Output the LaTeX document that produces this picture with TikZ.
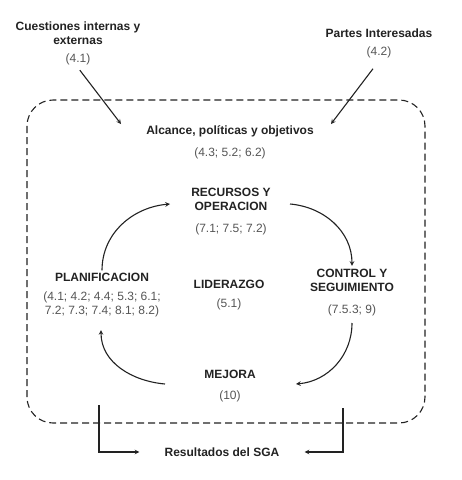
\documentclass[tikz,border=0pt]{standalone}
\usepackage{fontspec}
\setmainfont{Liberation Sans}
\usepackage{tikz}
\definecolor{numgray}{HTML}{555555}
\definecolor{inkblack}{HTML}{222222}
\tikzstyle{arrow} = [->,>=stealth,line width=1.1pt,draw=inkblack]
\tikzstyle{block} = [align=center,font=\fontsize{12}{14}\selectfont\bfseries,text=inkblack,inner sep=3pt]
\tikzstyle{frame} = [dash pattern=on 7pt off 4pt,line width=1.1pt,draw=inkblack,rounded corners=26pt]
\newcommand{\refnum}[1]{{\mdseries\color{numgray}#1}}

\begin{document}
\begin{tikzpicture}[x=1pt,y=-1pt]
        \useasboundingbox (0,0) rectangle (462,480);

        \draw[frame] (27,100) rectangle (425,423);

        \node[block] at (78,43) (cuest) {Cuestiones internas y\\externas\\[4pt]\refnum{(4.1)}};
        \node[block] at (379,43) (partes) {Partes Interesadas\\[4pt]\refnum{(4.2)}};
        \node[block] at (230,142) (alcance) {Alcance, políticas y objetivos\\[8pt]\refnum{(4.3; 5.2; 6.2)}};
        \node[block] at (231,212) (recursos) {RECURSOS Y\\OPERACION\\[8pt]\refnum{(7.1; 7.5; 7.2)}};
        \node[block] at (102,295.5) (planif) {PLANIFICACION\\[5pt]\refnum{(4.1; 4.2; 4.4; 5.3; 6.1;}\\\refnum{7.2; 7.3; 7.4; 8.1; 8.2)}};
        \node[block] at (229,295.5) (liderazgo) {LIDERAZGO\\[5pt]\refnum{(5.1)}};
        \node[block] at (352,292.5) (control) {CONTROL Y\\SEGUIMIENTO\\[8pt]\refnum{(7.5.3; 9)}};
        \node[block] at (230,386.5) (mejora) {MEJORA\\[7pt]\refnum{(10)}};
        \node[block] at (222,452) (resultados) {Resultados del SGA};

        \coordinate (in-cuest) at (121,124);
        \coordinate (in-partes) at (331,124);
        \coordinate (tl-end) at (170,204);
        \coordinate (tr-start) at (290,204);
        \coordinate (br-start) at (352,323);
        \coordinate (br-end) at (296,384);
        \coordinate (bl-start) at (165,384);
        \coordinate (bl-end) at (101,330);
        \coordinate (out-left) at (99,405);
        \coordinate (out-right) at (343,408);

        \draw[arrow, shorten <=3pt] (cuest.south) -- (in-cuest);
        \draw[arrow, shorten <=10pt] (partes.south) -- (in-partes);

        \draw[arrow] (planif.north) to [out=90, in=185] (tl-end);
        \draw[arrow] (tr-start) to [out=-5, in=90] (control.north);
        \draw[arrow] (br-start) to [out=-90, in=5] (br-end);
        \draw[arrow] (bl-start) to [out=175, in=-90] (bl-end);

        \draw[arrow, shorten >=22pt] (out-left) |- (resultados.west);
        \draw[arrow, shorten >=22pt] (out-right) |- (resultados.east);

\end{tikzpicture}
\end{document}
